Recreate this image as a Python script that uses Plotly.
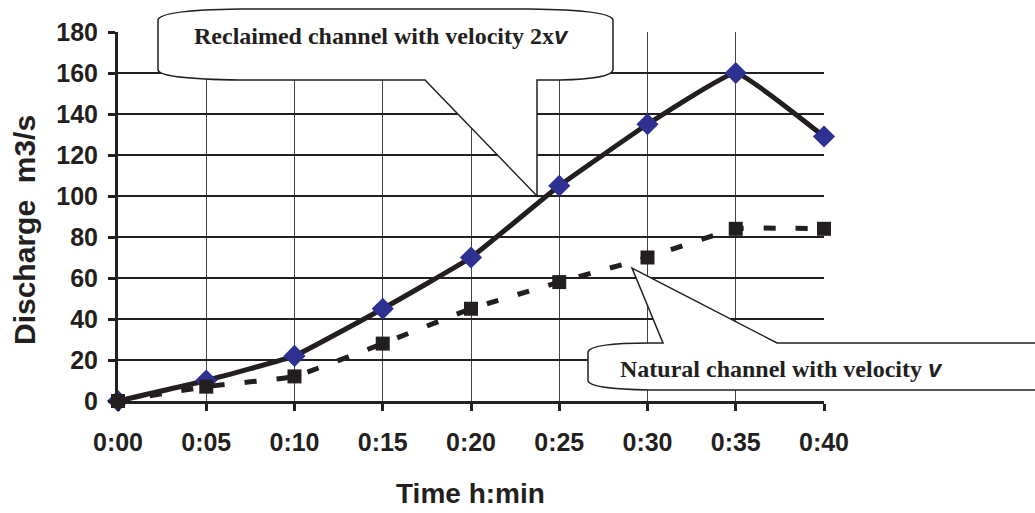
import plotly.graph_objects as go

# ---------------- data ----------------
time_labels = ["0:00", "0:05", "0:10", "0:15", "0:20", "0:25", "0:30", "0:35", "0:40"]
minutes = [0, 5, 10, 15, 20, 25, 30, 35, 40]
reclaimed = [0, 10, 22, 45, 70, 105, 135, 160, 129]
natural = [0, 7, 12, 28, 45, 58, 70, 84, 84]
y_ticks = [0, 20, 40, 60, 80, 100, 120, 140, 160, 180]

# ---------------- layout geometry ----------------
W, H = 1035, 513
L, R, T, B = 118, 824, 32, 401  # plot area pixel box

def px(x, y):
    return (x - L) / (R - L), (B - y) / (B - T)

def path(cmds):
    out = []
    for c in cmds:
        if isinstance(c, str):
            out.append(c)
        else:
            xp, yp = px(*c)
            out.append(f"{xp:.5f},{yp:.5f}")
    return " ".join(out)

INK = "#231F20"

fig = go.Figure()
fig.add_trace(go.Scatter(
    x=minutes, y=reclaimed, mode="lines+markers", name="Reclaimed",
    line=dict(color=INK, width=5, shape="spline", smoothing=0.3),
    marker=dict(symbol="diamond", size=17, color="#2E3192", line=dict(width=0)),
    cliponaxis=False,
))
fig.add_trace(go.Scatter(
    x=minutes, y=natural, mode="lines+markers", name="Natural",
    line=dict(color=INK, width=5, dash="12px,20px", shape="spline", smoothing=0.3),
    marker=dict(symbol="square", size=14, color=INK, line=dict(width=0)),
    cliponaxis=False,
))

tick_font = dict(family="Liberation Sans, Arial", size=25, color=INK, weight="bold")

fig.update_xaxes(
    range=[0, 40], tickvals=minutes, ticktext=time_labels,
    showline=True, linecolor=INK, linewidth=3,
    ticks="outside", ticklen=7, tickwidth=3, tickcolor=INK,
    showgrid=True, gridcolor="#444444", gridwidth=1,
    zeroline=False, tickfont=tick_font, ticklabelstandoff=10,
)
fig.update_yaxes(
    range=[0, 180], tickvals=y_ticks,
    showline=True, linecolor=INK, linewidth=3,
    ticks="outside", ticklen=7, tickwidth=3, tickcolor=INK,
    showgrid=True, gridcolor=INK, gridwidth=1.5,
    zeroline=False, tickfont=tick_font, ticklabelstandoff=5,
)

shapes = []
# top callout
top_path = path([
    "M", (158, 20), "Q", (160, 10), (240, 9), "L", (530, 9), "Q", (611, 10), (613, 20),
    "L", (613, 70), "Q", (611, 79), (560, 80), "L", (537, 80), "L", (537, 196),
    "L", (425, 80), "L", (240, 80), "Q", (160, 79), (158, 70), "Z",
])
shapes.append(dict(type="path", path=top_path, xref="paper", yref="paper",
                   fillcolor="white", line=dict(color=INK, width=1.5), layer="above"))
# bottom callout
bot_path = path([
    "M", (588, 352), "Q", (590, 343), (650, 343), "L", (663, 343), "L", (632, 268),
    "L", (777, 343), "L", (1070, 343), "L", (1070, 390), "L", (650, 390),
    "Q", (590, 389), (588, 381), "Z",
])
shapes.append(dict(type="path", path=bot_path, xref="paper", yref="paper",
                   fillcolor="white", line=dict(color=INK, width=1.5), layer="above"))

ann_font = dict(family="Liberation Serif, Times New Roman", size=24, color=INK)
annotations = []
x1, y1 = px(381, 36)
annotations.append(dict(
    x=x1, y=y1, xref="paper", yref="paper", xanchor="center", yanchor="middle",
    showarrow=False, font=ann_font,
    text="<b>Reclaimed channel with velocity 2x</b><b><i><span style='font-family:Liberation Sans'>v</span></i></b>",
))
x2, y2 = px(781, 368)
annotations.append(dict(
    x=x2, y=y2, xref="paper", yref="paper", xanchor="center", yanchor="middle",
    showarrow=False, font=ann_font,
    text="<b>Natural channel with velocity </b><b><i><span style='font-family:Liberation Sans'>v</span></i></b>",
))
# axis titles
xt, yt = px(24, 230)
annotations.append(dict(
    x=xt, y=yt, xref="paper", yref="paper", xanchor="center", yanchor="middle",
    showarrow=False, textangle=-90,
    font=dict(family="Liberation Sans, Arial", size=30, color=INK, weight="bold"),
    text="Discharge&nbsp;&nbsp;m3/s",
))
xx, yx = px(470, 493)
annotations.append(dict(
    x=xx, y=yx, xref="paper", yref="paper", xanchor="center", yanchor="middle",
    showarrow=False,
    font=dict(family="Liberation Sans, Arial", size=28, color=INK, weight="bold"),
    text="Time h:min",
))

fig.update_layout(
    width=W, height=H,
    margin=dict(l=L, r=W - R, t=T, b=H - B),
    plot_bgcolor="white", paper_bgcolor="white",
    showlegend=False,
    shapes=shapes, annotations=annotations,
)

fig.write_html("out.html")
